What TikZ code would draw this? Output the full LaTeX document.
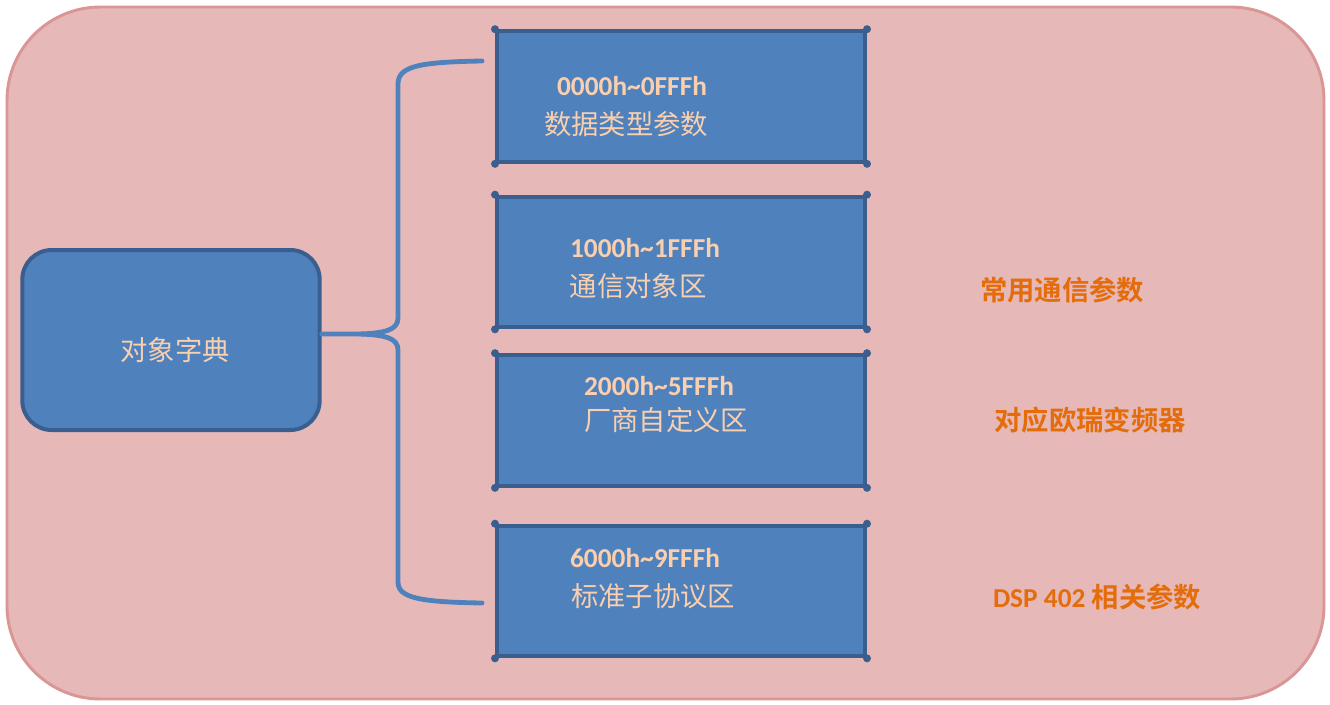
\documentclass[tikz,border=0pt]{standalone}
\usepackage{fontspec}
\setmainfont{Carlito}
\newfontfamily\latb{Carlito Bold}
\newfontfamily\cjk{Noto Sans CJK SC}
\newfontfamily\cjkb{Noto Sans CJK SC Bold}
\definecolor{bgpink}{HTML}{E6B9B8}
\definecolor{bgedge}{HTML}{D99694}
\definecolor{boxblue}{HTML}{4F81BD}
\definecolor{boxedge}{HTML}{3A5F8E}
\definecolor{peach}{HTML}{F9CFAE}
\definecolor{orng}{HTML}{E46C0A}
\tikzset{
  blk/.style={draw=boxedge, line width=3pt, fill=boxblue, minimum width=276pt, minimum height=98pt, inner sep=0pt},
  dictbox/.style={draw=boxedge, line width=3pt, fill=boxblue, rounded corners=22pt, minimum width=223pt, minimum height=135pt, inner sep=0pt},
  hex/.style={text=peach, font=\fontsize{20.5}{24}\selectfont\bfseries, inner sep=0pt},
  lbl/.style={text=peach, font=\fontsize{20.5}{24}\selectfont\cjk, inner sep=0pt},
  note/.style={text=orng, font=\fontsize{20.5}{24}\selectfont\cjkb, inner sep=0pt},
  brace/.style={draw=boxblue, line width=3.6pt, line cap=round, line join=round},
  cdot/.style={fill=boxedge}
}
\begin{document}
\begin{tikzpicture}[x=0.75pt, y=-0.75pt]
\useasboundingbox (0,0) rectangle (1330,704);
\draw[fill=bgpink, draw=bgedge, line width=2.2pt, rounded corners=70pt] (7,7) rectangle (1324,699);

\node[dictbox] (dict) at (171,340) {};
\node[lbl] (dictt) at (175,350) {对象字典};

\node[blk] (b1) at (681,96.5) {};
\node[blk] (b2) at (681,262) {};
\node[blk] (b3) at (681,420.5) {};
\node[blk] (b4) at (681,591) {};
\foreach \b in {b1,b2,b3,b4}{
  \fill[cdot] (\b.north west) circle (3pt);
  \fill[cdot] (\b.north east) circle (3pt);
  \fill[cdot] (\b.south west) circle (3pt);
  \fill[cdot] (\b.south east) circle (3pt);
}

\node[hex] (h1) at (632,86) {0000h\char`\~0FFFh};
\node[lbl] (l1) at (626,124) {数据类型参数};
\node[hex] (h2) at (645,248) {1000h\char`\~1FFFh};
\node[lbl] (l2) at (638,286) {通信对象区};
\node[hex] (h3) at (659,386) {2000h\char`\~5FFFh};
\node[lbl] (l3) at (666,420) {厂商自定义区};
\node[hex] (h4) at (645,558) {6000h\char`\~9FFFh};
\node[lbl] (l4) at (653,596) {标准子协议区};

\node[note] (n1) at (1062,290) {常用通信参数};
\node[note] (n2) at (1090,420) {对应欧瑞变频器};
\node[note] (n3) at (1097,597) {{\latb DSP 402} 相关参数};

\coordinate (top) at (482,61);
\coordinate (bot) at (482,603);
\coordinate (tip) at (398,334);
\draw[brace] (dict.east |- tip) -- (360,334) .. controls (385,333) and (398,330) .. (398,318)
  -- (398,84) .. controls (398,66) and (420,62) .. (top);
\draw[brace] (360,334) .. controls (385,335) and (398,338) .. (398,350)
  -- (398,582) .. controls (398,598) and (420,602) .. (bot);
\end{tikzpicture}
\end{document}
